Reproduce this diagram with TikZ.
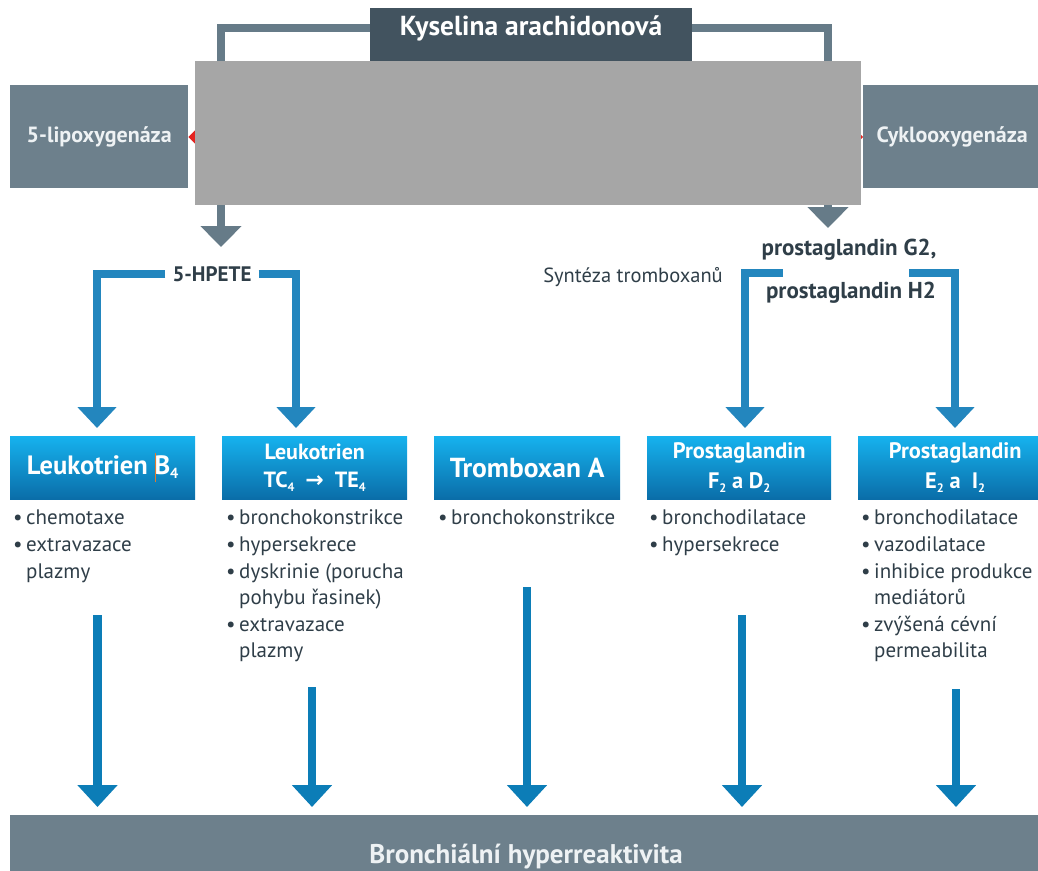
\documentclass[tikz,border=0pt]{standalone}
\usepackage{fontspec}
\setmainfont{PT Sans}
\newfontfamily\symf{DejaVu Sans}
\usetikzlibrary{arrows.meta}
\definecolor{cDark}{HTML}{42535F}
\definecolor{cSlate}{HTML}{6D808C}
\definecolor{cConn}{HTML}{667B88}
\definecolor{cBlue}{HTML}{2386BE}
\definecolor{cBlueArr}{HTML}{0C7DB7}
\definecolor{cTop}{HTML}{16B2EE}
\definecolor{cBot}{HTML}{0A6DA8}
\definecolor{cOver}{HTML}{A6A6A6}
\definecolor{cText}{HTML}{2F3E48}
\definecolor{cRed}{HTML}{E42320}
\definecolor{cCursor}{HTML}{E07A30}
\definecolor{cLight}{HTML}{EEF2F4}
\newcommand\lsub[1]{\raisebox{-0.35ex}{\scalebox{0.55}{#1}}}
\newcommand\bul{\makebox[13pt][l]{\textbullet}}
\newcommand\ind{\hspace*{13pt}}
\begin{document}
\begin{tikzpicture}[x=1pt,y=-1pt,
  conn/.style={draw=cConn, line width=8.5pt, line join=miter, -{Triangle[width=40pt,length=21pt]}},
  bconn/.style={draw=cBlue, line width=8.5pt, line join=miter, -{Triangle[width=38pt,length=21pt]}},
  barr/.style={draw=cBlueArr, line width=8.5pt, -{Triangle[width=39pt,length=22pt]}},
  slate/.style={fill=cSlate, text=cLight, font=\bfseries\fontsize{22}{25}\selectfont, inner sep=0, anchor=north west, minimum height=103pt},
  hdr/.style={top color=cTop, bottom color=cBot, text=white, inner sep=0, anchor=north west, minimum height=63pt, align=center},
  blist/.style={anchor=north west, inner sep=0, align=left, text=cText, font=\fontsize{21}{26.6}\selectfont},
  lbl/.style={text=cText, inner sep=0}
]
\path[use as bounding box, clip] (0,0) rectangle (1038,870);

% top box
\node[fill=cDark, minimum width=322pt, minimum height=54pt, inner sep=0, anchor=north west] (ka) at (370,8) {};
\node[text=white, font=\bfseries\fontsize{27.5}{30}\selectfont, inner sep=0] (katext) at (531,28) {Kyselina arachidonová};

% enzyme boxes
\node[slate, minimum width=178pt] (lipo) at (10,85) {5-lipoxygenáza};
\node[slate, minimum width=178pt] (cox) at (863,85) {Cyklooxygenáza};

% gray connectors
\coordinate (lipoArr) at (221,247);
\coordinate (coxArr) at (828,228);
\draw[conn] (ka.east |- 0,28) -| (coxArr);
\draw[conn] (ka.west |- 0,28) -| (lipoArr);

% red arrows (mostly hidden)
\coordinate (mid) at (528,137);
\draw[cRed, line width=2pt, -{Triangle[width=20pt,length=10pt]}] (mid) -- (mid -| lipo.east);
\draw[cRed, line width=2pt, -{Triangle[width=20pt,length=10pt]}] (mid) -- (mid -| cox.west);

% overlay
\node[fill=cOver, minimum width=666pt, minimum height=144pt, anchor=north west, inner sep=0] (ov) at (195,61) {};

% middle labels
\node[lbl, font=\bfseries\fontsize{21}{24}\selectfont, inner xsep=7pt] (hpete) at (212,274) {5-HPETE};
\node[lbl, font=\bfseries\fontsize{23}{26}\selectfont] (pg2) at (849,250) {prostaglandin G2,};
\node[lbl, font=\bfseries\fontsize{23}{26}\selectfont] (ph2) at (851,293) {prostaglandin H2};
\node[lbl, font=\fontsize{20.5}{23}\selectfont] (synt) at (633,277) {Syntéza tromboxanů};

% header boxes
\node[hdr, minimum width=185pt, font=\bfseries\fontsize{26.5}{29}\selectfont] (h1) at (10,436)
  {Leukotrien {\color{cCursor}\rule[-0.3em]{1.2pt}{1.1em}}\kern-1.2pt B\lsub{4}};
\node[hdr, minimum width=185pt, font=\bfseries\fontsize{22}{28}\selectfont] (h2) at (222,436)
  {Leukotrien\\TC\lsub{4}\enspace{\symf\bfseries →}\enspace TE\lsub{4}};
\node[hdr, minimum width=186pt, font=\bfseries\fontsize{27.5}{30}\selectfont] (h3) at (434,436) {Tromboxan A};
\node[hdr, minimum width=184pt, font=\bfseries\fontsize{22.4}{30}\selectfont] (h4) at (647,436)
  {Prostaglandin\\F\lsub{2} a D\lsub{2}};
\node[hdr, minimum width=194pt, font=\bfseries\fontsize{22.4}{30}\selectfont] (h5) at (858,436)
  {Prostaglandin\\E\lsub{2} a\enspace I\lsub{2}};

% blue brackets
\coordinate (t1) at (97,428);
\coordinate (t2) at (296,428);
\draw[bconn] (hpete.west) -| (t1);
\draw[bconn] (hpete.east) -| (t2);
\coordinate (bl) at (783,273);
\coordinate (br) at (909,273);
\coordinate (t4) at (745,428);
\coordinate (t5) at (955,428);
\draw[bconn] (bl) -| (t4);
\draw[bconn] (br) -| (t5);

% bullet lists
\node[blist] (l1) at (13,506) {\strut\bul chemotaxe\\\bul extravazace\\\ind plazmy};
\node[blist] (l2) at (226,506) {\strut\bul bronchokonstrikce\\\bul hypersekrece\\\bul dyskrinie (porucha\\\ind pohybu řasinek)\\\bul extravazace\\\ind plazmy};
\node[blist] (l3) at (438,506) {\strut\bul bronchokonstrikce};
\node[blist] (l4) at (649,506) {\strut\bul bronchodilatace\\\bul hypersekrece};
\node[blist] (l5) at (861,506) {\strut\bul bronchodilatace\\\bul vazodilatace\\\bul inhibice produkce\\\ind mediátorů\\\bul zvýšená cévní\\\ind permeabilita};

% bottom bar
\node[fill=cSlate, anchor=north west, minimum width=1040pt, minimum height=60pt, inner sep=0] (bar) at (10,815) {};
\node[text=cLight, font=\bfseries\fontsize{27}{30}\selectfont, anchor=base, inner sep=0] (bartxt) at (526,863) {Bronchiální hyperreaktivita};

% bottom arrows
\coordinate (s1) at (97.5,615);
\coordinate (s2) at (312,687);
\coordinate (s3) at (527,587);
\coordinate (s4) at (742,615);
\coordinate (s5) at (956,689);
\foreach \s in {s1,s2,s3,s4,s5}
  \draw[barr] (\s) -- ([yshift=8pt]\s |- bar.north);
\end{tikzpicture}
\end{document}
